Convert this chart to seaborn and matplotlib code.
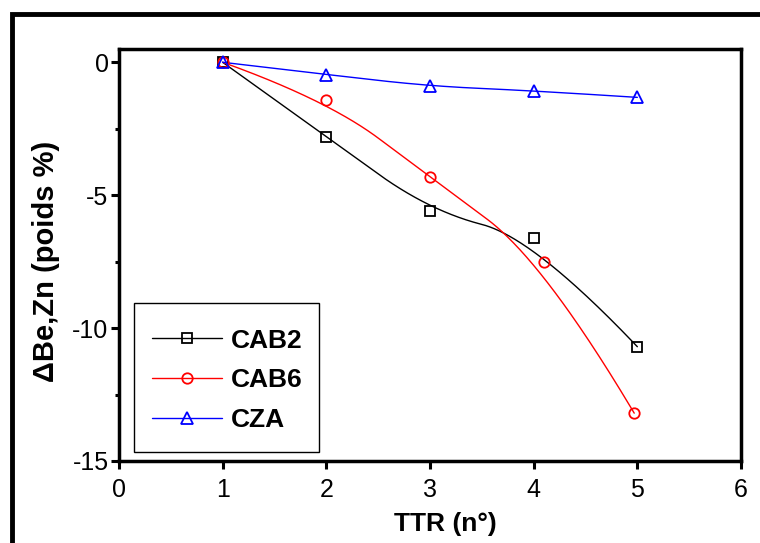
import matplotlib
matplotlib.use("Agg")
import numpy as np
import matplotlib.pyplot as plt
import seaborn as sns
from matplotlib.lines import Line2D
from matplotlib.patches import Rectangle
from matplotlib.ticker import MultipleLocator

# ---------- DATA ----------
ttr_cab2 = [1, 2, 3, 4, 5]
cab2 = [0.0, -2.8, -5.6, -6.6, -10.7]

ttr_cab6 = [1, 2, 3, 4.1, 4.97]
cab6 = [0.0, -1.4, -4.3, -7.5, -13.2]

ttr_cza = [1, 2, 3, 4, 5]
cza = [0.0, -0.46, -0.9, -1.07, -1.32]

names = ["CAB2", "CAB6", "CZA"]
xs = [ttr_cab2, ttr_cab6, ttr_cza]
ys = [cab2, cab6, cza]
colors = ["black", "red", "blue"]
markers = ["s", "o", "^"]
msizes = [7, 7.5, 8.5]


def bspline(x, y, k=2, n=300):
    # clamped B-spline, the data points act as control points (Origin "B-Spline" connect)
    m = len(x)
    knots = np.concatenate([np.zeros(k), np.linspace(0, 1, m - k + 1), np.ones(k)])
    t = np.linspace(0, 1 - 1e-9, n)
    N = [((knots[i] <= t) & (t < knots[i + 1])).astype(float) for i in range(len(knots) - 1)]
    for d in range(1, k + 1):
        new = []
        for i in range(len(knots) - 1 - d):
            v = np.zeros_like(t)
            if knots[i + d] > knots[i]:
                v = v + (t - knots[i]) / (knots[i + d] - knots[i]) * N[i]
            if knots[i + d + 1] > knots[i + 1]:
                v = v + (knots[i + d + 1] - t) / (knots[i + d + 1] - knots[i + 1]) * N[i + 1]
            new.append(v)
        N = new
    N = np.array(N)
    return N.T @ np.asarray(x, float), N.T @ np.asarray(y, float)


sns.set_style("ticks")
plt.rcParams["font.family"] = ["Liberation Sans", "DejaVu Sans"]
plt.rcParams["axes.unicode_minus"] = False
for key in ["text.color", "axes.labelcolor", "xtick.color", "ytick.color", "axes.edgecolor"]:
    plt.rcParams[key] = "black"

fig = plt.figure(figsize=(7.6, 5.43), dpi=100)
ax = fig.add_axes([119 / 760, 1 - 461 / 543, (741 - 119) / 760, (461 - 49) / 543])

# ---------- CURVES + POINTS ----------
for name, x, y, c, m, ms in zip(names, xs, ys, colors, markers, msizes):
    cx, cy = bspline(x, y)
    sns.lineplot(x=cx, y=cy, sort=False, estimator=None, color=c, lw=1.0, ax=ax)
    ax.plot(x, y, ls="none", marker=m, ms=ms, mfc="none", mec=c, mew=1.3, zorder=5)

ax.set_xlim(0, 6)
ax.set_ylim(-15, 0.5)
ax.set_xticks(range(0, 7))
ax.set_yticks([0, -5, -10, -15])
ax.yaxis.set_minor_locator(MultipleLocator(2.5))

for s in ax.spines.values():
    s.set_linewidth(2.5)
    s.set_visible(True)
ax.tick_params(which="major", direction="out", length=5.5, width=2.2,
               labelsize=18, top=False, right=False)
ax.tick_params(axis="x", which="major", pad=7)
ax.tick_params(axis="y", which="major", pad=2)
ax.tick_params(which="minor", direction="out", length=3, width=2.2,
               top=False, right=False)

ax.set_xlabel("TTR (n°)", fontsize=19, fontweight="bold", labelpad=7)
ax.xaxis.label.set_x(0.524)
ax.set_ylabel("ΔBe,Zn (poids %)", fontsize=21, fontweight="bold", labelpad=9)
ax.yaxis.label.set_y(0.485)

# ---------- LEGEND ----------
handles = [Line2D([], [], color=c, lw=1.0, marker=m, ms=ms, mfc="none", mec=c, mew=1.3)
           for c, m, ms in zip(colors, markers, msizes)]
leg = ax.legend(handles, names, loc="center", bbox_to_anchor=(0.1745, 0.1954),
                borderaxespad=0, borderpad=0, numpoints=1, handlelength=2.65,
                frameon=False, prop=dict(size=19, weight="bold"),
                labelspacing=0.6, handletextpad=0.35)
ax.add_patch(Rectangle((15 / 622, 9 / 412), 185 / 622, 149 / 412, transform=ax.transAxes,
                       fill=False, ec="black", lw=1.0, zorder=6))

# ---------- OUTER FRAME ----------
fig.add_artist(Rectangle((12 / 760, -0.2), 1.3, 1.2 - 14 / 543, transform=fig.transFigure,
                         fill=False, ec="black", lw=3.5, clip_on=False))

fig.savefig("out.png", dpi=100)
